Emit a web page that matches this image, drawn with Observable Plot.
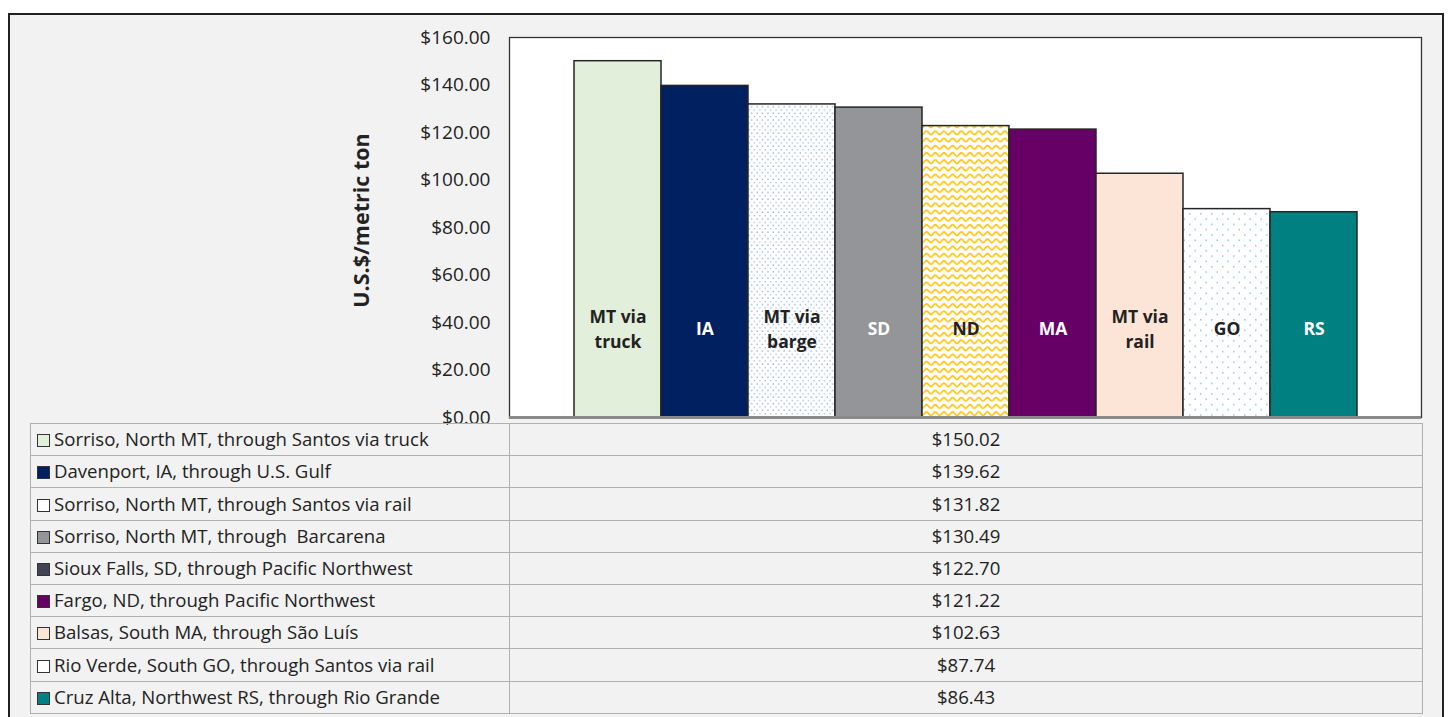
<!DOCTYPE html>
<html>
<head>
<meta charset="utf-8">
<script src="https://cdn.jsdelivr.net/npm/d3@7"></script>
<script src="https://cdn.jsdelivr.net/npm/@observablehq/plot@0.6"></script>
<style>
  html, body { margin: 0; padding: 0; background: #fff; overflow: hidden; }
  #wrap { position: relative; width: 1448px; height: 717px; background: #fff; font-family: "Open Sans", Lato, sans-serif; }
  #frame { position: absolute; left: 8px; top: 13px; width: 1436px; height: 720px; box-sizing: border-box; border: 2px solid #222; background: #f2f2f2; }
  #chart { position: absolute; left: 0; top: 0; }
  #tbl { position: absolute; left: 30px; top: 423px; border-collapse: collapse; font-size: 18.6px; color: #222; }
  #tbl td { border: 1.5px solid #b0b0b0; height: 31.2px; padding: 0; white-space: pre; line-height: 1; }
  #tbl td.lab { width: 479px; padding-left: 6px; box-sizing: border-box; }
  #tbl td.val { width: 912px; text-align: center; }
  .mk { display: inline-block; width: 11px; height: 11px; border: 1px solid #333; vertical-align: -1px; margin-right: 4px; }
</style>
</head>
<body>
<div id="wrap">
  <div id="frame"></div>
  <div id="chart"></div>
  <table id="tbl"></table>
</div>
<script>
// ---- data ----
const abbr = ["MT via truck", "IA", "MT via barge", "SD", "ND", "MA", "MT via rail", "GO", "RS"];
const barLabels = ["MT via\ntruck", "IA", "MT via\nbarge", "SD", "ND", "MA", "MT via\nrail", "GO", "RS"];
const values = [150.02, 139.62, 131.82, 130.49, 122.70, 121.22, 102.63, 87.74, 86.43];
const routes = [
  "Sorriso, North MT, through Santos via truck",
  "Davenport, IA, through U.S. Gulf",
  "Sorriso, North MT, through Santos via rail",
  "Sorriso, North MT, through  Barcarena",
  "Sioux Falls, SD, through Pacific Northwest",
  "Fargo, ND, through Pacific Northwest",
  "Balsas, South MA, through São Luís",
  "Rio Verde, South GO, through Santos via rail",
  "Cruz Alta, Northwest RS, through Rio Grande"
];
const barFills = ["#e2efda", "#002060", "url(#dotsBlue)", "#939598", "url(#zigzag)", "#660066", "#fce4d6", "url(#dotsLight)", "#008080"];
const labelColors = ["#222", "#fff", "#222", "#fff", "#222", "#fff", "#222", "#222", "#fff"];
const markerFills = ["#e2efda", "#002060", "#ffffff", "#939598", "#404553", "#660066", "#fce4d6", "#ffffff", "#008080"];
const yTicks = [0, 20, 40, 60, 80, 100, 120, 140, 160];

const data = abbr.map((a, i) => ({
  abbr: a, label: barLabels[i], value: values[i], fill: barFills[i], lc: labelColors[i]
}));

const chart = Plot.plot({
  width: 1448,
  height: 430,
  marginLeft: 509,
  marginRight: 27,
  marginTop: 37,
  marginBottom: 13,
  style: { background: "transparent", fontFamily: "'Open Sans', Lato, sans-serif", color: "#222", overflow: "visible" },
  x: { domain: abbr, paddingInner: 0, paddingOuter: 0.74, axis: null },
  y: { domain: [0, 160] },
  color: { type: "identity" },
  marks: [
    Plot.frame({ fill: "white", stroke: "none" }),
    Plot.barY(data, { x: "abbr", y: "value", fill: "fill", stroke: "#262626", strokeWidth: 1.5 }),
    Plot.text(data, {
      x: "abbr", text: "label", frameAnchor: "bottom", dy: -90,
      fill: "lc", fontSize: 17.5, fontWeight: "bold", lineHeight: 1.4, lineAnchor: "middle"
    }),
    Plot.frame({ stroke: "#333", strokeWidth: 1.3 }),
    Plot.ruleY([0], { stroke: "#8a8a8a", strokeWidth: 3 }),
    Plot.axisY({
      ticks: yTicks, tickFormat: d => "$" + d.toFixed(2), tickSize: 0, tickPadding: 19,
      fontSize: 19, label: null
    }),
    Plot.text(["U.S.$/metric ton"], {
      text: d => d, frameAnchor: "left", textAnchor: "middle", dx: -147, dy: -7, rotate: -90,
      fontSize: 21.5, fontWeight: "bold", fill: "#222"
    })
  ]
});

chart.insertAdjacentHTML("afterbegin", `
<defs>
  <pattern id="dotsBlue" patternUnits="userSpaceOnUse" width="5.4" height="6.6">
    <rect width="5.4" height="6.6" fill="#fff"/>
    <rect x="0.5" y="0.5" width="1.3" height="1.3" fill="#7fa3db"/>
    <rect x="3.2" y="3.8" width="1.3" height="1.3" fill="#9db9e6"/>
  </pattern>
  <pattern id="dotsLight" patternUnits="userSpaceOnUse" width="11" height="10.6">
    <rect width="11" height="10.6" fill="#fff"/>
    <rect x="1" y="1" width="1.5" height="1.5" fill="#8ec2f5"/>
    <rect x="6.5" y="6.3" width="1.5" height="1.5" fill="#8ec2f5"/>
  </pattern>
  <pattern id="zigzag" patternUnits="userSpaceOnUse" width="8.7" height="7.2">
    <rect width="8.7" height="7.2" fill="#fff"/>
    <path d="M0,5 C1.6,5 2.6,1.5 4.35,1.5 C6.1,1.5 7.1,5 8.7,5" fill="none" stroke="#ffc000" stroke-width="1.6"/>
  </pattern>
</defs>`);

document.getElementById("chart").appendChild(chart);

// ---- data table below the chart ----
const tbl = document.getElementById("tbl");
routes.forEach((r, i) => {
  const tr = document.createElement("tr");
  const td1 = document.createElement("td");
  td1.className = "lab";
  const mk = document.createElement("span");
  mk.className = "mk";
  mk.style.background = markerFills[i];
  td1.appendChild(mk);
  td1.appendChild(document.createTextNode(r));
  const td2 = document.createElement("td");
  td2.className = "val";
  td2.textContent = "$" + values[i].toFixed(2);
  tr.appendChild(td1);
  tr.appendChild(td2);
  tbl.appendChild(tr);
});
</script>
</body>
</html>
